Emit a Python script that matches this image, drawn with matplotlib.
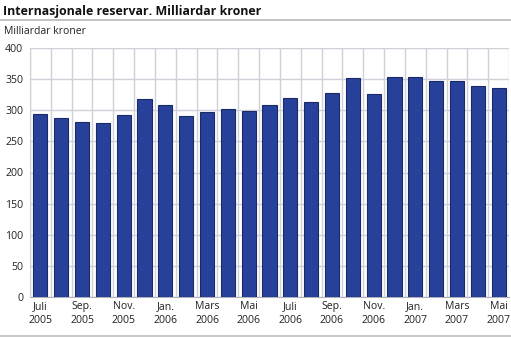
import matplotlib
matplotlib.use("Agg")
import matplotlib.pyplot as plt
from matplotlib.lines import Line2D
import numpy as np

plt.rcParams['font.family'] = ['Open Sans', 'DejaVu Sans']

months = ["Juli\n2005", "Aug.\n2005", "Sep.\n2005", "Okt.\n2005", "Nov.\n2005", "Des.\n2005",
          "Jan.\n2006", "Feb.\n2006", "Mars\n2006", "April\n2006", "Mai\n2006", "Juni\n2006",
          "Juli\n2006", "Aug.\n2006", "Sep.\n2006", "Okt.\n2006", "Nov.\n2006", "Des.\n2006",
          "Jan.\n2007", "Feb.\n2007", "Mars\n2007", "April\n2007", "Mai\n2007"]
values = [294, 287, 281, 280, 293, 318, 308, 291, 297, 302, 299, 308,
          319, 313, 328, 352, 326, 354, 353, 347, 347, 339, 336]
yticks = [0, 50, 100, 150, 200, 250, 300, 350, 400]

W, H = 511, 337
fig = plt.figure(figsize=(W/100, H/100), dpi=100)
ax = fig.add_axes([30/W, 40/H, 479/W, 249/H])

x = np.arange(len(values))
ax.bar(x, values, width=0.68, color='#27419a', edgecolor='#1a2a66', linewidth=0.8, zorder=3)

ax.set_xlim(-0.5, len(values) - 0.5)
ax.set_ylim(0, 400)
ax.set_yticks(yticks)
ax.set_xticks(x[::2])
ax.set_xticklabels(months[::2], linespacing=1.3)
ax.set_xticks(np.arange(-0.5, len(values), 1), minor=True)

grid_c = '#d0d0d8'
ax.grid(axis='y', which='major', color=grid_c, linewidth=1.0, zorder=0)
ax.grid(axis='x', which='minor', color=grid_c, linewidth=1.0, zorder=0)
ax.grid(axis='x', which='major', visible=False)
for s in ['top', 'right']:
    ax.spines[s].set_visible(False)
ax.spines['left'].set_color(grid_c)
ax.spines['bottom'].set_color('#b0b0b8')
ax.tick_params(which='both', length=0, labelsize=7.6, colors='#222222', pad=3)
ax.tick_params(axis='y', pad=5)

fig.text(3/W, 1 - 11/H, "Internasjonale reservar. Milliardar kroner", fontsize=8.9,
         fontweight='bold', va='center', ha='left', color='#111111')
fig.add_artist(Line2D([0, 1], [1 - 20/H, 1 - 20/H], transform=fig.transFigure,
                      color='#b8b8b8', linewidth=1.2))
fig.text(4/W, 1 - 32/H, "Milliardar kroner", fontsize=7.5, va='center', ha='left', color='#222222')
fig.add_artist(Line2D([0, 1], [1.5/H, 1.5/H], transform=fig.transFigure,
                      color='#c8c8c8', linewidth=2.2))

fig.savefig("out.png", dpi=100)
